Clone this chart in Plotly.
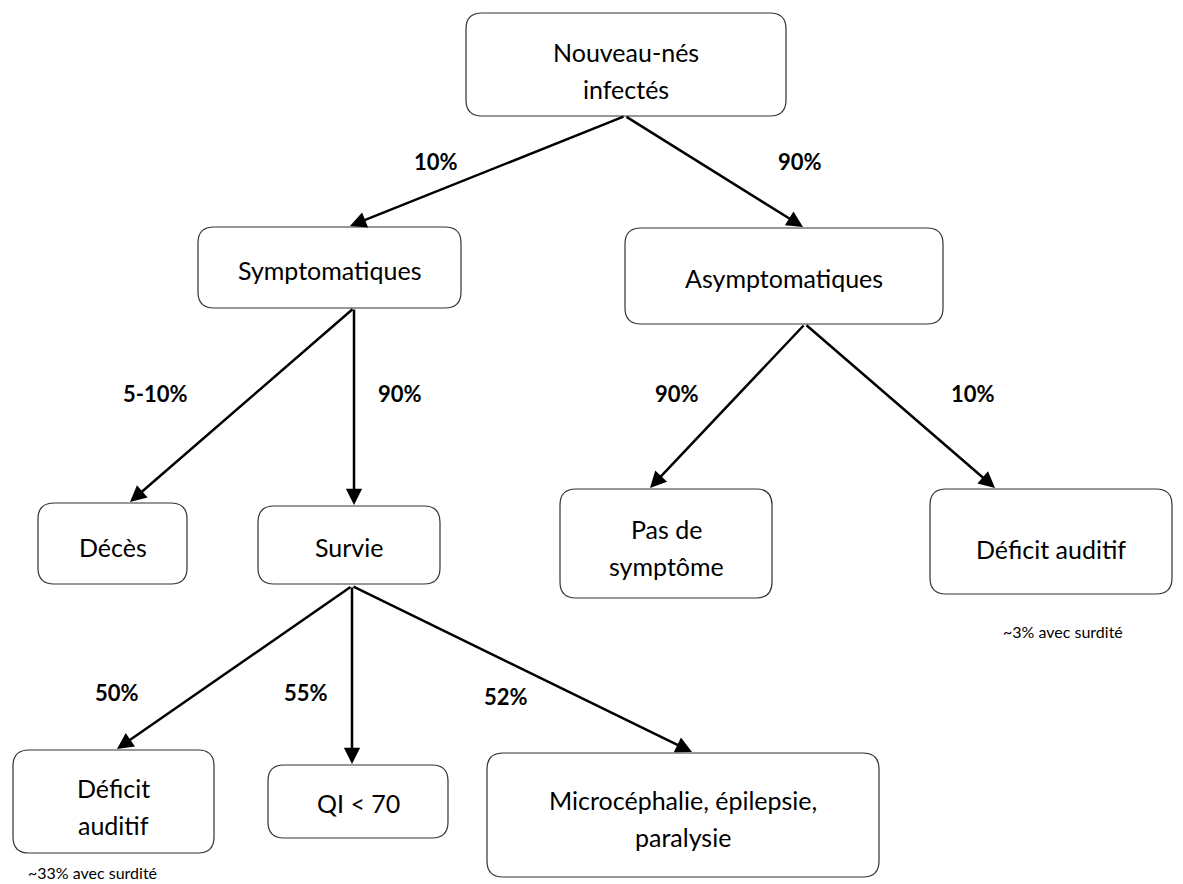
import plotly.graph_objects as go

# ---- content ----
node_labels = [
    "Nouveau-nés<br>infectés",
    "Symptomatiques",
    "Asymptomatiques",
    "Décès",
    "Survie",
    "Pas de<br>symptôme",
    "Déficit auditif",
    "Déficit<br>auditif",
    "QI < 70",
    "Microcéphalie, épilepsie,<br>paralysie",
]
edge_pairs = [(0, 1), (0, 2), (1, 3), (1, 4), (2, 5), (2, 6), (4, 7), (4, 8), (4, 9)]
edge_labels = ["10%", "90%", "5-10%", "90%", "90%", "10%", "50%", "55%", "52%"]
notes = ["~3% avec surdité", "~33% avec surdité"]

# ---- geometry (pixel layout) ----
boxes = [  # x0, y0, x1, y1
    (466, 13, 786, 116),
    (198, 227, 461, 308),
    (625, 228, 943, 324),
    (38, 503, 187, 584),
    (258, 506, 440, 584),
    (560, 489, 772, 598),
    (930, 489, 1172, 594),
    (13, 750, 214, 853),
    (268, 765, 448, 838),
    (487, 753, 879, 877),
]
text_y = [70, 270, 278, 547, 547, 547, 549, 806, 803, 818]
arrow_start = [(625, 116), (625, 116), (354, 308), (354, 308), (805, 324), (805, 324),
               (352, 586), (352, 586), (352, 586)]
arrow_end = [(350, 226), (803, 227), (130, 502), (354, 505), (650, 488), (995, 488),
             (117, 749), (352, 764), (692, 752)]
label_pos = [(436, 161), (800, 161), (155, 393), (400, 393), (677, 393), (973, 393),
             (117, 692), (306, 692), (506, 696)]
note_pos = [(1063, 631), (92, 872)]

W, H = 1183, 884
FONT = "Lato, 'Open Sans', sans-serif"
LINE_GAP = 37


def rounded(x0, y0, x1, y1, r=16):
    return (f"M {x0+r},{y0} L {x1-r},{y0} Q {x1},{y0} {x1},{y0+r} "
            f"L {x1},{y1-r} Q {x1},{y1} {x1-r},{y1} L {x0+r},{y1} "
            f"Q {x0},{y1} {x0},{y1-r} L {x0},{y0+r} Q {x0},{y0} {x0+r},{y0} Z")


fig = go.Figure()
fig.add_trace(go.Scatter(x=[0, W], y=[0, H], mode="markers",
                         marker=dict(opacity=0), hoverinfo="skip", showlegend=False))

shapes = []
annotations = []
for (x0, y0, x1, y1), ty, lab in zip(boxes, text_y, node_labels):
    shapes.append(dict(type="path", path=rounded(x0, y0, x1, y1), xref="x", yref="y",
                       line=dict(color="#333333", width=1.2), fillcolor="white", layer="below"))
    lines = lab.split("<br>")
    n = len(lines)
    for i, ln in enumerate(lines):
        yy = ty + (i - (n - 1) / 2) * LINE_GAP
        annotations.append(dict(x=(x0 + x1) / 2, y=yy, xref="x", yref="y",
                                text=ln, showarrow=False,
                                font=dict(family=FONT, size=25, color="black")))

for (sx, sy), (ex, ey) in zip(arrow_start, arrow_end):
    annotations.append(dict(x=ex, y=ey, ax=sx, ay=sy, xref="x", yref="y",
                            axref="x", ayref="y", text="", showarrow=True,
                            arrowhead=2, arrowsize=1.3, arrowwidth=2.5,
                            arrowcolor="black", standoff=0, startstandoff=0))

for (lx, ly), lab in zip(label_pos, edge_labels):
    annotations.append(dict(x=lx, y=ly, xref="x", yref="y", text=f"<b>{lab}</b>",
                            showarrow=False, font=dict(family=FONT, size=22, color="black")))

for (nx, ny), lab in zip(note_pos, notes):
    annotations.append(dict(x=nx, y=ny, xref="x", yref="y", text=lab, showarrow=False,
                            font=dict(family=FONT, size=16, color="black")))

fig.update_layout(
    width=W, height=H,
    margin=dict(l=0, r=0, t=0, b=0),
    paper_bgcolor="white", plot_bgcolor="white",
    xaxis=dict(range=[0, W], visible=False, fixedrange=True),
    yaxis=dict(range=[H, 0], visible=False, fixedrange=True),
    shapes=shapes, annotations=annotations, showlegend=False,
)

fig.write_html("out.html", config={"displayModeBar": False},
               post_script="document.body.style.margin='0';"
                           "document.documentElement.style.overflow='hidden';")
